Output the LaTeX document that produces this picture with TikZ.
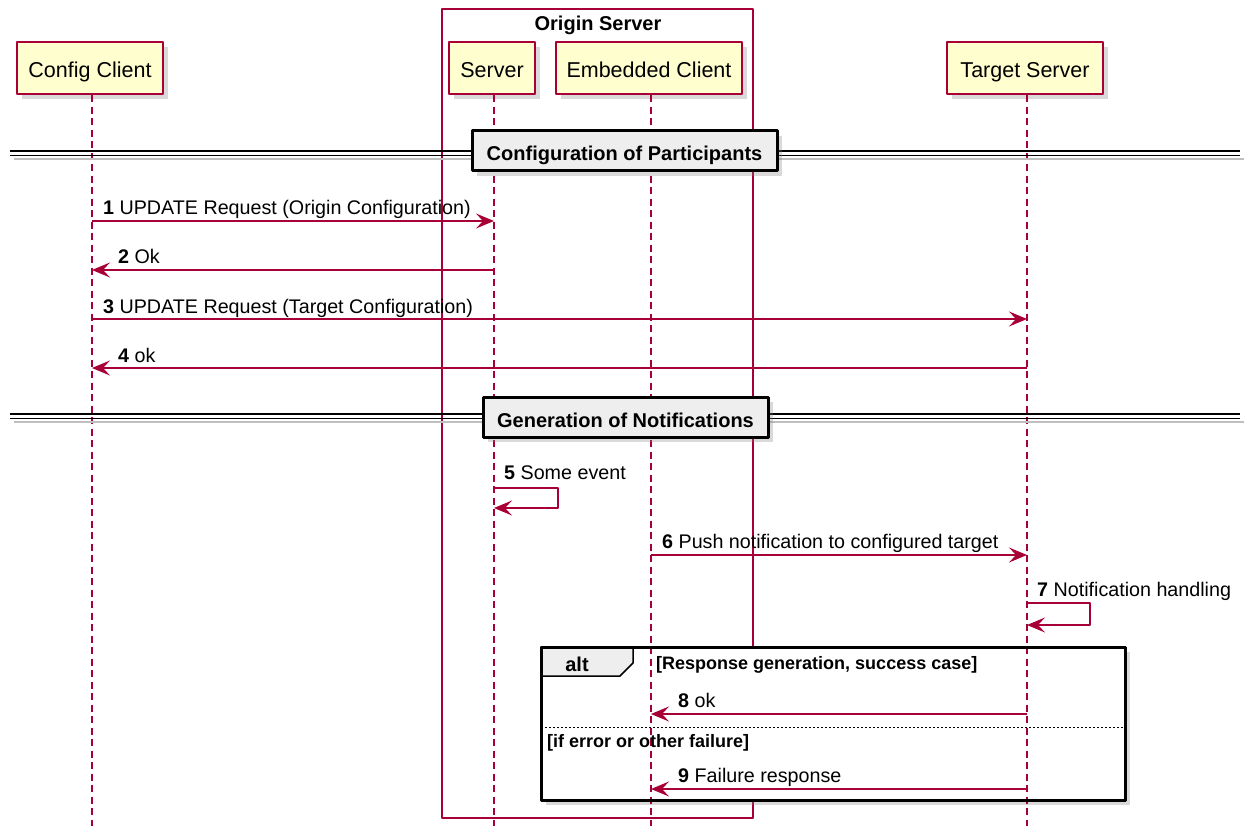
\documentclass[tikz,border=0pt]{standalone}
\usepackage{fontspec}
\setmainfont{Liberation Sans}
\usetikzlibrary{arrows.meta,positioning,shadows}

\definecolor{umlred}{HTML}{A80036}
\definecolor{umlcream}{HTML}{FEFECE}
\definecolor{umlgrey}{HTML}{EEEEEE}

\tikzset{
  part/.style={draw=umlred,line width=2.2pt,fill=umlcream,minimum height=52pt,
    text height=20pt,text depth=0pt,font=\fontsize{21.5}{24}\selectfont,
    drop shadow={shadow xshift=5pt,shadow yshift=-5pt,opacity=0.3}},
  life/.style={umlred,line width=1.4pt,dash pattern=on 7pt off 4.5pt},
  msg/.style={umlred,line width=1.5pt,-{Stealth[length=18pt,width=15pt,inset=7pt]}},
  lbl/.style={anchor=base west,inner sep=0pt,font=\fontsize{19.7}{22}\selectfont},
  sepbox/.style={draw=black,line width=3pt,fill=umlgrey,minimum height=40pt,
    text height=20pt,text depth=0pt,font=\bfseries\fontsize{20}{22}\selectfont,
    drop shadow={shadow xshift=5pt,shadow yshift=-5pt,opacity=0.3}},
  sepline/.style={black,line width=1.5pt},
  guard/.style={anchor=base west,inner sep=0pt,font=\bfseries\fontsize{18}{20}\selectfont}
}

\begin{document}
\begin{tikzpicture}[x=1pt,y=-1pt,line join=round]
\useasboundingbox (0,0) rectangle (1244,826);
\coordinate (bot) at (0,826);

% origin server group and alt frame
\draw[umlred,line width=1.5pt] (442,9) rectangle (753,818);
\node[anchor=base,inner sep=0pt,font=\bfseries\fontsize{20}{22}\selectfont] (grp) at (598,31) {Origin Server};
\draw[line width=3pt,fill=white,drop shadow={shadow xshift=5pt,shadow yshift=-5pt,opacity=0.3}] (541,647) rectangle (1125,800);

% participants
\node[part,minimum width=146pt] (cfg) at (90,68) {Config Client};
\node[part,minimum width=86pt] (srv) at (492,68) {Server};
\node[part,minimum width=186pt] (emb) at (649,68) {Embedded Client};
\node[part,minimum width=156pt] (tgt) at (1025,68) {Target Server};
\foreach \p in {cfg,srv,emb,tgt}
  \draw[life] ([xshift=2pt]\p.south) -- ([xshift=2pt]\p.south |- bot);

% dividers
\draw[black!25,line width=2pt] (14,159) -- (1244,159) (14,422) -- (1244,422);
\draw[sepline] (10,151) -- (1240,151) (10,155.5) -- (1240,155.5);
\draw[sepline] (10,414) -- (1240,414) (10,418.5) -- (1240,418.5);
\node[sepbox,minimum width=305pt] (conf) at (624.5,151) {Configuration of Participants};
\node[sepbox,minimum width=285pt] (gen) at (625.5,417) {Generation of Notifications};

% messages
\draw[msg] ([xshift=2pt]cfg |- 0,221) -- ([xshift=2pt]srv |- 0,221);
\node[lbl] (l1) at (103,215) {\textbf{1} UPDATE Request (Origin Configuration)};
\draw[msg] ([xshift=2pt]srv |- 0,270) -- ([xshift=2pt]cfg |- 0,270);
\node[lbl] (l2) at (118,264) {\textbf{2} Ok};
\draw[msg] ([xshift=2pt]cfg |- 0,319) -- ([xshift=2pt]tgt |- 0,319);
\node[lbl] (l3) at (103,313) {\textbf{3} UPDATE Request (Target Configuration)};
\draw[msg] ([xshift=2pt]tgt |- 0,368) -- ([xshift=2pt]cfg |- 0,368);
\node[lbl] (l4) at (118,362) {\textbf{4} ok};

\draw[msg] ([xshift=2pt]srv |- 0,488) -| (558,508) -- ([xshift=2pt]srv |- 0,508);
\node[lbl] (l5) at (504,479) {\textbf{5} Some event};
\draw[msg] ([xshift=2pt]emb |- 0,555) -- ([xshift=2pt]tgt |- 0,555);
\node[lbl] (l6) at (662,548) {\textbf{6} Push notification to configured target};
\draw[msg] ([xshift=2pt]tgt |- 0,603) -| (1090,625) -- ([xshift=2pt]tgt |- 0,625);
\node[lbl] (l7) at (1037,596) {\textbf{7} Notification handling};

% alt frame
\draw[line width=1.5pt,fill=umlgrey] (541,647) -- (633,647) -- (633,663) -- (620,676) -- (541,676) -- cycle;
\node[anchor=base,inner sep=0pt,font=\bfseries\fontsize{20}{22}\selectfont] (alt) at (577,671) {alt};
\node[guard] (g1) at (656,669) {[Response generation, success case]};
\draw[msg] ([xshift=2pt]tgt |- 0,714) -- ([xshift=2pt]emb |- 0,714);
\node[lbl] (l8) at (678,707) {\textbf{8} ok};
\draw[black,line width=1pt,dash pattern=on 2pt off 2pt] (541,727) -- (1125,727);
\node[guard] (g2) at (547,747) {[if error or other failure]};
\draw[msg] ([xshift=2pt]tgt |- 0,789) -- ([xshift=2pt]emb |- 0,789);
\node[lbl] (l9) at (678,782) {\textbf{9} Failure response};
\draw[line width=3pt] (541,647) rectangle (1125,800);
\end{tikzpicture}
\end{document}
